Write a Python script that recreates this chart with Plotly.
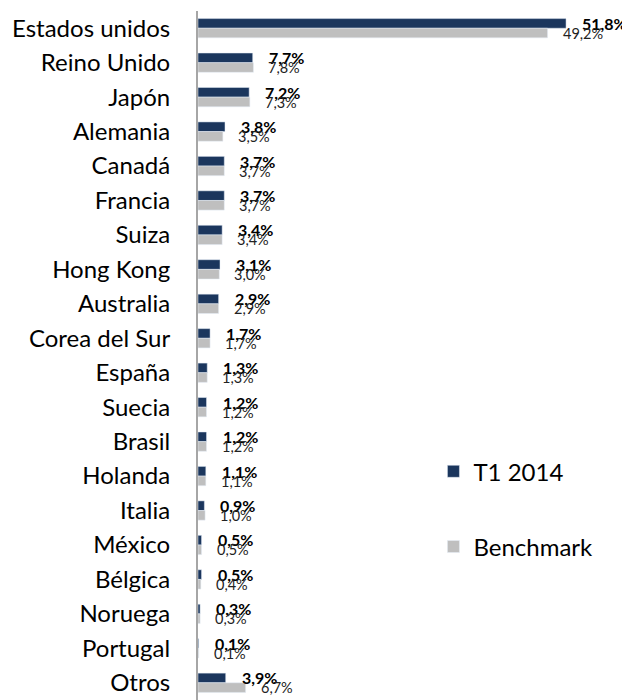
import plotly.graph_objects as go

paises = ['Estados unidos', 'Reino Unido', 'Japón', 'Alemania', 'Canadá', 'Francia',
          'Suiza', 'Hong Kong', 'Australia', 'Corea del Sur', 'España', 'Suecia',
          'Brasil', 'Holanda', 'Italia', 'México', 'Bélgica', 'Noruega', 'Portugal', 'Otros']
t1_2014 = [51.8, 7.7, 7.2, 3.8, 3.7, 3.7, 3.4, 3.1, 2.9, 1.7, 1.3, 1.2, 1.2, 1.1, 0.9, 0.5, 0.5, 0.3, 0.1, 3.9]
benchmark = [49.2, 7.8, 7.3, 3.5, 3.7, 3.7, 3.4, 3.0, 2.9, 1.7, 1.3, 1.2, 1.2, 1.1, 1.0, 0.5, 0.4, 0.3, 0.1, 6.7]

NAVY = '#1b365d'
GRIS = '#bfbfbf'
FONT = 'Lato'


def etiqueta(v):
    return f'{v:.1f}'.replace('.', ',') + '%'


fig = go.Figure()
fig.add_trace(go.Bar(y=paises, x=t1_2014, name='T1 2014', orientation='h',
                     marker_color=NAVY, legendgroup='a'))
fig.add_trace(go.Bar(y=paises, x=benchmark, name='Benchmark', orientation='h',
                     marker_color=GRIS, legendgroup='b'))

# value labels, offset from the bar ends
anots = []
for p, a, b in zip(paises, t1_2014, benchmark):
    anots.append(dict(x=a, y=p, text='<b>' + etiqueta(a) + '</b>', xanchor='left', xshift=14,
                      yshift=5, showarrow=False, font=dict(family=FONT, size=16, color='black')))
    anots.append(dict(x=b, y=p, text=etiqueta(b), xanchor='left', xshift=13,
                      yshift=-5, showarrow=False, font=dict(family=FONT, size=14.5, color='#222')))

# page body has an 8px margin, so the figure is 8px smaller and margins shifted
fig.update_layout(
    width=622, height=692,
    margin=dict(l=190, r=0, t=3, b=0),
    barmode='group', bargap=0.44, bargroupgap=0,
    plot_bgcolor='white', paper_bgcolor='white',
    font=dict(family=FONT, size=24, color='black'),
    annotations=anots,
    legend=dict(x=0.545, y=0.364, xanchor='left', yanchor='top', tracegroupgap=41,
                font=dict(size=24), bgcolor='rgba(0,0,0,0)'),
    xaxis=dict(range=[0, 60.8], visible=False),
    yaxis=dict(autorange='reversed', showline=True, linecolor='#a6a6a6', linewidth=2,
               ticks='', ticklabelstandoff=21, showgrid=False, automargin=False),
)

fig.write_html('out.html')
